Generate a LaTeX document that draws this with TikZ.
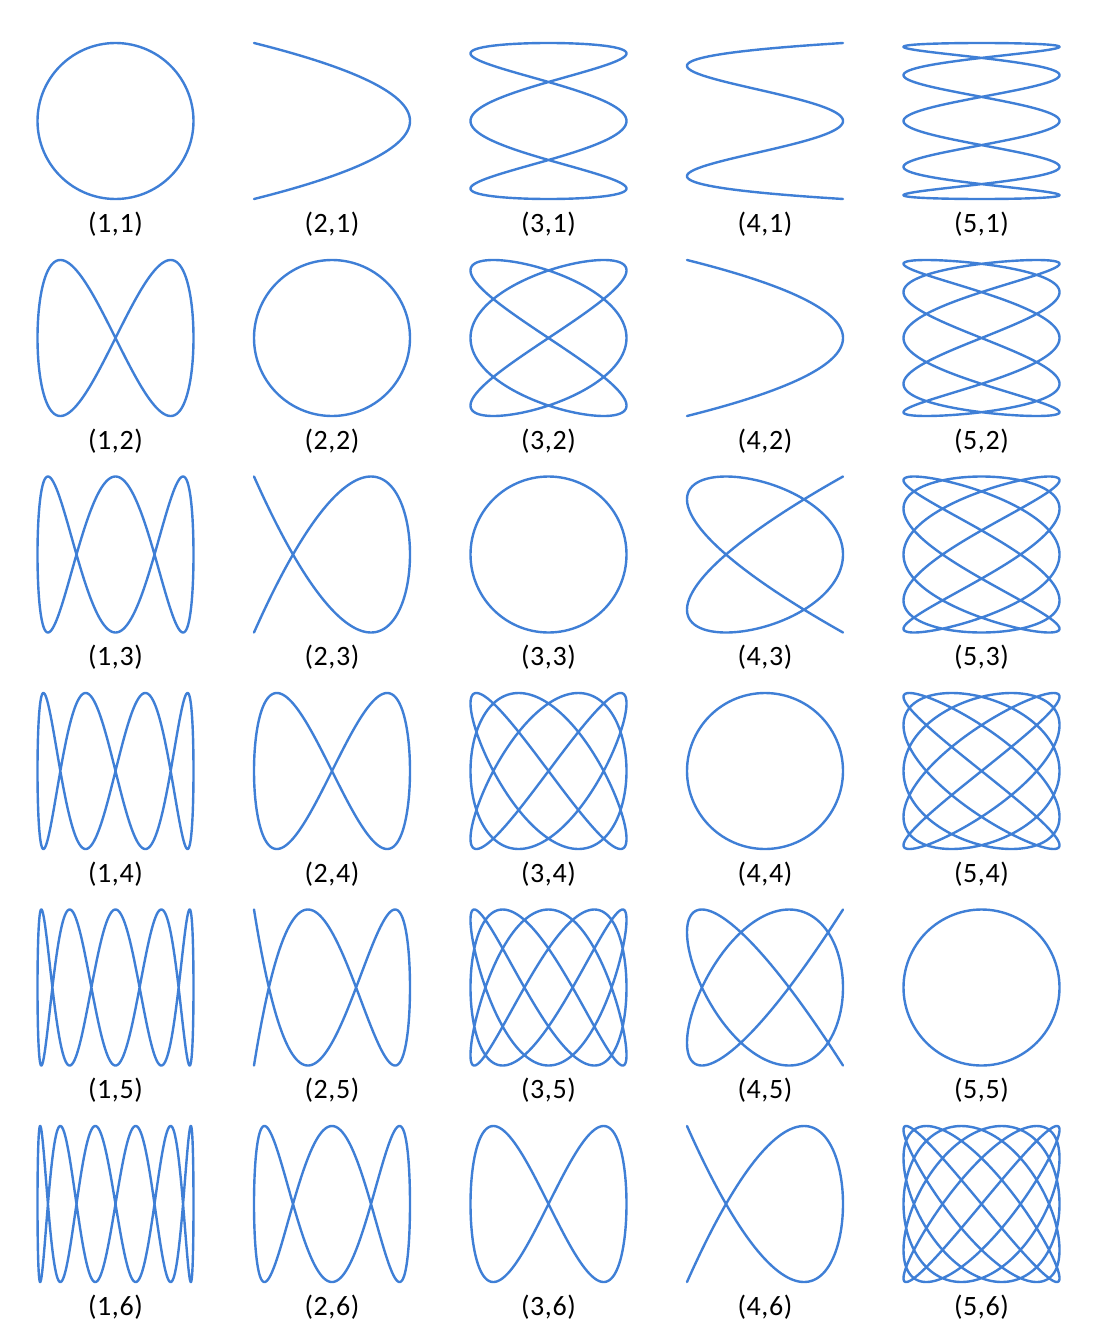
\documentclass[tikz,border=0pt]{standalone}
\usepackage{fontspec}
\setmainfont{Carlito}
\definecolor{curveblue}{HTML}{3F7FD6}
\tikzset{
  liss/.style={draw=curveblue, line width=2.4pt, line join=round},
  lab/.style={font=\fontsize{28}{32}\selectfont\addfontfeature{LetterSpace=2}, inner sep=0pt, anchor=base}
}
\begin{document}
\begin{tikzpicture}[x=1pt,y=1pt]
\useasboundingbox (0,0) rectangle (1095,-1335);
\foreach \a/\cx in {1/115.5,2/332,3/548.5,4/765,5/981.5}{
  \foreach \b/\cy in {1/121,2/338,3/554.5,4/771,5/987.5,6/1204}{
    \pgfmathtruncatemacro{\ns}{120*max(\a,\b)+1}
    \draw[liss] plot[domain=0:360, samples=\ns, variable=\t]
      ({\cx+78*cos(\a*\t)}, {-\cy+78*sin(\b*\t)});
    \node[lab] (L\a\b) at (\cx, -\cy-111) {(\a,\b)};
  }
}
\end{tikzpicture}
\end{document}
